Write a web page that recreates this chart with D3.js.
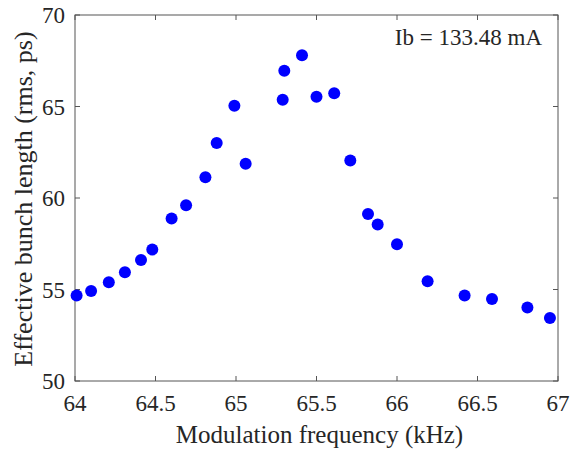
<!DOCTYPE html>
<html>
<head>
<meta charset="utf-8">
<script src="https://cdn.jsdelivr.net/npm/d3@7"></script>
</head>
<body style="margin:0">
<div id="chart"></div>
<script>
// measured points (kHz, ps)
var freq = [64.01, 64.10, 64.21, 64.31, 64.41, 64.48, 64.60, 64.69, 64.81, 64.88,
            64.99, 65.06, 65.29, 65.30, 65.41, 65.50, 65.61, 65.71, 65.82, 65.88,
            66.00, 66.19, 66.42, 66.59, 66.81, 66.95];
var bunchLength = [54.67, 54.92, 55.39, 55.94, 56.61, 57.18, 58.88, 59.61, 61.14, 63.01,
                   65.04, 61.87, 65.37, 66.95, 67.80, 65.53, 65.72, 62.05, 59.13, 58.55,
                   57.47, 55.45, 54.67, 54.48, 54.01, 53.44];
var xTicks = [64, 64.5, 65, 65.5, 66, 66.5, 67];
var yTicks = [50, 55, 60, 65, 70];
var annotation = "Ib = 133.48 mA";

var width = 575, height = 449;
var margin = {left: 75, right: 17, top: 15, bottom: 68};
var innerW = width - margin.left - margin.right;
var innerH = height - margin.top - margin.bottom;
var fontFamily = "'Liberation Serif'";
var textColor = "#262626";
var axisColor = "#555";
var tickLen = 5;

var svg = d3.select("#chart").append("svg")
	.attr("width", width)
	.attr("height", height);

var g = svg.append("g")
	.attr("transform", "translate(" + margin.left + "," + margin.top + ")");

var x = d3.scaleLinear().domain([64, 67]).range([0, innerW]);
var y = d3.scaleLinear().domain([50, 70]).range([innerH, 0]);

// frame and inward ticks (matlab box style)
g.append("rect")
	.attr("width", innerW)
	.attr("height", innerH)
	.attr("fill", "none")
	.attr("stroke", axisColor);

g.selectAll("line.xb")
	.data(xTicks)
	.enter().append("line")
	.attr("x1", function(d){ return x(d); })
	.attr("x2", function(d){ return x(d); })
	.attr("y1", innerH)
	.attr("y2", innerH - tickLen)
	.attr("stroke", axisColor);
g.selectAll("line.xt")
	.data(xTicks)
	.enter().append("line")
	.attr("x1", function(d){ return x(d); })
	.attr("x2", function(d){ return x(d); })
	.attr("y1", 0)
	.attr("y2", tickLen)
	.attr("stroke", axisColor);
g.selectAll("line.yl")
	.data(yTicks)
	.enter().append("line")
	.attr("x1", 0)
	.attr("x2", tickLen)
	.attr("y1", function(d){ return y(d); })
	.attr("y2", function(d){ return y(d); })
	.attr("stroke", axisColor);
g.selectAll("line.yr")
	.data(yTicks)
	.enter().append("line")
	.attr("x1", innerW)
	.attr("x2", innerW - tickLen)
	.attr("y1", function(d){ return y(d); })
	.attr("y2", function(d){ return y(d); })
	.attr("stroke", axisColor);

// tick labels
g.selectAll("text.xlab")
	.data(xTicks)
	.enter().append("text")
	.attr("x", function(d){ return x(d); })
	.attr("y", innerH + 30)
	.style("font-family", fontFamily)
	.style("font-size", "23px")
	.style("fill", textColor)
	.style("text-anchor", "middle")
	.text(function(d){ return d; });

g.selectAll("text.ylab")
	.data(yTicks)
	.enter().append("text")
	.attr("x", -10)
	.attr("y", function(d){ return y(d) + 8; })
	.style("font-family", fontFamily)
	.style("font-size", "23px")
	.style("fill", textColor)
	.style("text-anchor", "end")
	.text(function(d){ return d; });

// points
g.selectAll("circle.pt")
	.data(freq)
	.enter().append("circle")
	.attr("cx", function(d){ return x(d); })
	.attr("cy", function(d, i){ return y(bunchLength[i]); })
	.attr("r", 6)
	.attr("fill", "#0000ff");

// axis titles
svg.append("text")
	.attr("x", margin.left + innerW / 2 + 3)
	.attr("y", 443)
	.style("font-family", fontFamily)
	.style("font-size", "25px")
	.style("fill", textColor)
	.style("text-anchor", "middle")
	.text("Modulation frequency (kHz)");

svg.append("text")
	.attr("transform", "translate(32,199) rotate(-90)")
	.style("font-family", fontFamily)
	.style("font-size", "26px")
	.style("fill", textColor)
	.style("text-anchor", "middle")
	.text("Effective bunch length (rms, ps)");

g.append("text")
	.attr("x", innerW - 16)
	.attr("y", 30)
	.style("font-family", fontFamily)
	.style("font-size", "23px")
	.style("fill", textColor)
	.style("text-anchor", "end")
	.text(annotation);
</script>
</body>
</html>
